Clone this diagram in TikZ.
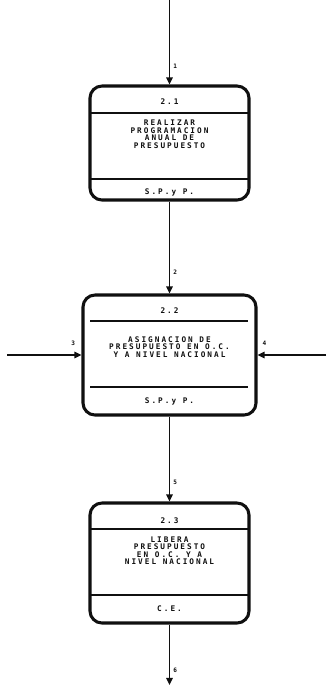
\documentclass[tikz,border=0pt]{standalone}
\usepackage{fontspec}
\usepackage{tikz}
\usetikzlibrary{arrows.meta,positioning,calc}
\newfontfamily\dfdFont[LetterSpace=26]{DejaVu Sans Mono}
\definecolor{dfdInk}{HTML}{101010}

\begin{document}
\begin{tikzpicture}[
  x=.03cm,y=-.03cm,
  procbox/.style={draw=dfdInk,line width=2.6pt,rounded corners=.36cm,inner sep=0pt},
  sepline/.style={draw=dfdInk,line width=1.5pt},
  flow/.style={draw=dfdInk,line width=1.4pt,-{Triangle[length=6pt,width=5.5pt]}},
  boxtext/.style={font=\dfdFont\bfseries\fontsize{6.6}{6.4}\selectfont,align=center,text=dfdInk,inner sep=0pt},
  flowlab/.style={font=\dfdFont\bfseries\fontsize{5.2}{5}\selectfont,text=dfdInk,inner sep=0pt}
]
  \useasboundingbox (0,0) rectangle (326,687);
  % processes
  \node[procbox,minimum width=4.77cm,minimum height=3.42cm] (p21) at (169.5,143) {};
  \node[procbox,minimum width=5.19cm,minimum height=3.6cm] (p22) at (169.5,355) {};
  \node[procbox,minimum width=4.77cm,minimum height=3.6cm] (p23) at (169.5,563) {};
  \draw[sepline] (90,113) -- (249,113);
  \draw[sepline] (90,179) -- (249,179);
  \draw[sepline] (90,321) -- (248,321);
  \draw[sepline] (90,387) -- (248,387);
  \draw[sepline] (90,529) -- (249,529);
  \draw[sepline] (90,595) -- (249,595);
  \node[boxtext] (n21) at (169.5,102) {2.1};
  \node[boxtext] (t21) at (169.5,134) {REALIZAR\\PROGRAMACION\\ANUAL DE\\PRESUPUESTO};
  \node[boxtext] (r21) at (169.5,192) {S.P.y P.};
  \node[boxtext] (n22) at (169.5,311) {2.2};
  \node[boxtext] (t22) at (169.5,347) {ASIGNACION DE\\PRESUPUESTO EN O.C.\\Y A NIVEL NACIONAL};
  \node[boxtext] (r22) at (169.5,401) {S.P.y P.};
  \node[boxtext] (n23) at (169.5,521) {2.3};
  \node[boxtext] (t23) at (169.5,550.5) {LIBERA\\PRESUPUESTO\\EN O.C. Y A\\NIVEL NACIONAL};
  \node[boxtext] (r23) at (169.5,609) {C.E.};
  % flows
  \coordinate (in1) at (169.5,0);
  \coordinate (in3) at (7,355);
  \coordinate (in4) at (326,355);
  \coordinate (out6) at (169.5,685);
  \draw[flow] (in1) -- node[flowlab,pos=.79,anchor=west,xshift=2.5pt] {1} (p21);
  \draw[flow] (p21) -- node[flowlab,pos=.77,anchor=west,xshift=2.5pt] {2} (p22);
  \draw[flow] (in3) -- node[flowlab,pos=.89,above=7pt] {3} (p22);
  \draw[flow] (in4) -- node[flowlab,pos=.9,above=7pt] {4} (p22);
  \draw[flow] (p22) -- node[flowlab,pos=.77,anchor=west,xshift=2.5pt] {5} (p23);
  \draw[flow] (p23) -- node[flowlab,pos=.76,anchor=west,xshift=2.5pt] {6} (out6);
\end{tikzpicture}
\end{document}
